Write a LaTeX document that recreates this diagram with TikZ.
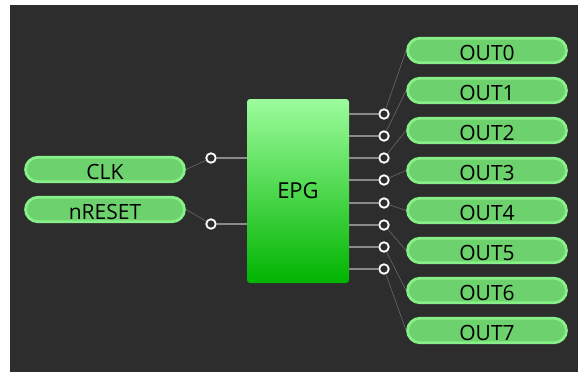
\documentclass[tikz,border=0pt]{standalone}
\usepackage{fontspec}
\setmainfont{Open Sans}
\definecolor{bgc}{HTML}{2D2D2D}
\definecolor{pillfill}{HTML}{6DD26D}
\definecolor{pillline}{HTML}{88F088}
\definecolor{epgtop}{HTML}{9CFC9C}
\definecolor{epgbot}{HTML}{00B400}
\definecolor{stemc}{HTML}{8A8A8A}
\definecolor{wirec}{HTML}{6A6A6A}
\begin{document}
\begin{tikzpicture}[x=1pt,y=-1pt,
  pill/.style={draw=pillline,fill=pillfill,line width=2.8pt,rounded corners=12.5pt,
    minimum width=159pt,minimum height=24.5pt,inner sep=0pt,text height=19pt,text depth=0pt,
    font=\fontsize{21}{24}\selectfont,text=black},
  epgbox/.style={rounded corners=3pt,top color=epgtop,bottom color=epgbot,
    minimum width=102pt,minimum height=184pt,inner sep=0pt,
    font=\fontsize{22}{25}\selectfont,text=black},
  pinc/.style={circle,draw=white,fill=bgc,line width=1.8pt,minimum size=9.5pt,inner sep=0pt},
  stem/.style={draw=stemc,line width=1.8pt},
  wire/.style={draw=wirec,line width=0.6pt}]
\fill[white] (0,0) rectangle (578,372);
\fill[bgc] (10,5) rectangle (578,372);
\useasboundingbox (0,0) rectangle (578,372);

\node[epgbox] (epg) at (298,191) {EPG};

\node[pill] (clk) at (105,169.5) {CLK};
\node[pill] (nrst) at (105,209.5) {nRESET};
\node[pinc] (pclk) at (211,158) {};
\node[pinc] (pnrst) at (211,224) {};
\draw[stem] (pclk) -- (epg.west |- pclk);
\draw[stem] (pnrst) -- (epg.west |- pnrst);
\draw[wire] (clk.east) -- (pclk);
\draw[wire] (nrst.east) -- (pnrst);

\foreach \i/\py in {0/114,1/136,2/158,3/180,4/203,5/225,6/247,7/269}{
  \pgfmathsetmacro\oy{50.5+40*\i}
  \node[pill] (out\i) at (487,\oy) {OUT\i};
  \node[pinc] (p\i) at (384,\py) {};
  \draw[stem] (epg.east |- p\i) -- (p\i);
  \draw[wire] (p\i) -- (out\i.west);
}
\end{tikzpicture}
\end{document}
